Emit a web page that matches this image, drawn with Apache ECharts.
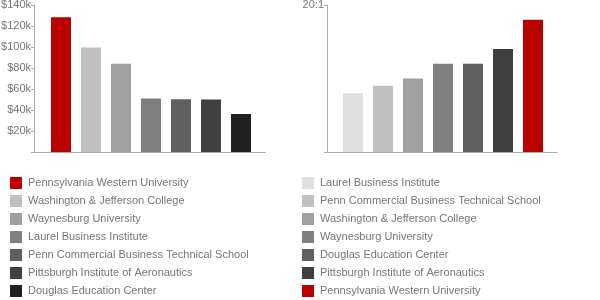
<!DOCTYPE html>
<html>
<head>
<meta charset="utf-8">
<script src="https://cdn.jsdelivr.net/npm/echarts@6/dist/echarts.min.js"></script>
<style>
  html, body { margin: 0; padding: 0; background: #fff; }
  #chart { width: 600px; height: 300px; }
</style>
</head>
<body>
<div id="chart"></div>
<script>
// 数据
const salarySchools = [
    'Pennsylvania Western University',
    'Washington & Jefferson College',
    'Waynesburg University',
    'Laurel Business Institute',
    'Penn Commercial Business Technical School',
    'Pittsburgh Institute of Aeronautics',
    'Douglas Education Center'
];
const salaryValues = [128300, 99500, 84000, 51000, 50200, 50100, 36200];

const ratioSchools = [
    'Laurel Business Institute',
    'Penn Commercial Business Technical School',
    'Washington & Jefferson College',
    'Waynesburg University',
    'Douglas Education Center',
    'Pittsburgh Institute of Aeronautics',
    'Pennsylvania Western University'
];
const ratioValues = [8, 9, 10, 12, 12, 14, 18];

const salaryTicks = [0, 20000, 40000, 60000, 80000, 100000, 120000, 140000];
const ratioTicks = [0, 20];

// 颜色
const salaryColors = ['#bb0000', '#c0c0c0', '#a0a0a0', '#808080', '#606060', '#404040', '#202020'];
const ratioColors = ['#e0e0e0', '#c0c0c0', '#a0a0a0', '#808080', '#606060', '#404040', '#bb0000'];

const FONT = '"Liberation Sans", Arial, sans-serif';
const AXIS_COLOR = '#aaaaaa';
const TEXT_COLOR = '#777777';
const RIGHT_PREFIX = 'R:';

const chart = echarts.init(document.getElementById('chart'));

function xAxisConfig(gridIndex, min) {
    return {
        type: 'value',
        gridIndex,
        min,
        max: 6.8,
        axisLine: { show: true, onZero: false, lineStyle: { color: AXIS_COLOR } },
        axisTick: { show: false },
        axisLabel: { show: false },
        splitLine: { show: false }
    };
}

function yAxisConfig(gridIndex, ticks, formatter) {
    return {
        type: 'value',
        gridIndex,
        min: ticks[0],
        max: ticks[ticks.length - 1],
        interval: ticks[1] - ticks[0],
        axisLine: { show: true, onZero: false, lineStyle: { color: AXIS_COLOR } },
        axisTick: { show: true, length: 3, lineStyle: { color: AXIS_COLOR } },
        axisLabel: {
            margin: 3,
            color: TEXT_COLOR,
            fontFamily: FONT,
            fontSize: 11,
            formatter
        },
        splitLine: { show: false }
    };
}

function barSeries(names, values, colors, axisIndex, prefix) {
    return names.map((name, i) => ({
        name: prefix + name,
        type: 'bar',
        xAxisIndex: axisIndex,
        yAxisIndex: axisIndex,
        barWidth: 20,
        barGap: '-100%',
        itemStyle: { color: colors[i] },
        data: [[i, values[i]]]
    }));
}

function legendConfig(left, names, prefix) {
    return {
        orient: 'vertical',
        left,
        top: 177,
        padding: 0,
        icon: 'rect',
        itemWidth: 12,
        itemHeight: 12,
        itemGap: 6,
        selectedMode: false,
        data: names.map(n => prefix + n),
        formatter: name => name.slice(prefix.length),
        textStyle: { color: TEXT_COLOR, fontFamily: FONT, fontSize: 11, padding: [0, 0, 0, 1] }
    };
}

chart.setOption({
    animation: false,
    textStyle: { fontFamily: FONT },
    grid: [
        { left: 34, top: 5, width: 231, height: 147, outerBoundsMode: 'none', containLabel: false },
        { left: 327, top: 5, width: 230, height: 147, outerBoundsMode: 'none', containLabel: false }
    ],
    xAxis: [xAxisConfig(0, -0.9), xAxisConfig(1, -0.867)],
    yAxis: [
        yAxisConfig(0, salaryTicks, v => v ? '$' + v / 1000 + 'k' : ''),
        yAxisConfig(1, ratioTicks, v => v ? v + ':1' : '')
    ],
    legend: [
        legendConfig(10, salarySchools, ''),
        legendConfig(302, ratioSchools, RIGHT_PREFIX)
    ],
    series: [
        ...barSeries(salarySchools, salaryValues, salaryColors, 0, ''),
        ...barSeries(ratioSchools, ratioValues, ratioColors, 1, RIGHT_PREFIX)
    ]
});
</script>
</body>
</html>
